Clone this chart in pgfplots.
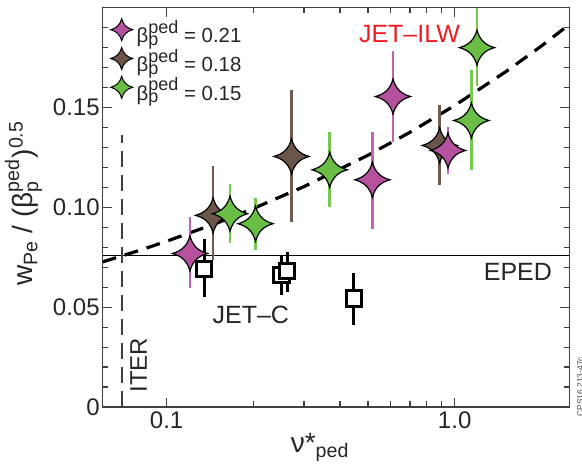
\documentclass[border=0pt]{standalone}
\usepackage{fontspec}
\setmainfont{Liberation Sans}
\usepackage{amsmath}
\usepackage{pgfplots}
\usepackage{pgfplotstable}
\pgfplotsset{compat=1.18}

\definecolor{cmag}{RGB}{181,81,158}
\definecolor{cmagbar}{RGB}{192,98,179}
\definecolor{cbrown}{RGB}{107,85,73}
\definecolor{cbrownbar}{RGB}{110,90,79}
\definecolor{cgreen}{RGB}{106,190,69}
\definecolor{cgreenbar}{RGB}{120,200,80}
\definecolor{cred}{RGB}{237,28,36}

\pgfdeclareplotmark{star4}{%
 \pgfpathmoveto{\pgfqpoint{0pt}{\pgfplotmarksize}}%
 \pgfpathcurveto{\pgfqpoint{0.15\pgfplotmarksize}{0.45\pgfplotmarksize}}{\pgfqpoint{0.45\pgfplotmarksize}{0.15\pgfplotmarksize}}{\pgfqpoint{\pgfplotmarksize}{0pt}}%
 \pgfpathcurveto{\pgfqpoint{0.45\pgfplotmarksize}{-0.15\pgfplotmarksize}}{\pgfqpoint{0.15\pgfplotmarksize}{-0.45\pgfplotmarksize}}{\pgfqpoint{0pt}{-\pgfplotmarksize}}%
 \pgfpathcurveto{\pgfqpoint{-0.15\pgfplotmarksize}{-0.45\pgfplotmarksize}}{\pgfqpoint{-0.45\pgfplotmarksize}{-0.15\pgfplotmarksize}}{\pgfqpoint{-\pgfplotmarksize}{0pt}}%
 \pgfpathcurveto{\pgfqpoint{-0.45\pgfplotmarksize}{0.15\pgfplotmarksize}}{\pgfqpoint{-0.15\pgfplotmarksize}{0.45\pgfplotmarksize}}{\pgfqpoint{0pt}{\pgfplotmarksize}}%
 \pgfpathclose
 \pgfusepathqfillstroke
}

\newcommand{\legbeta}{β\rlap{\raisebox{-1.2pt}{\fontsize{9}{10}\selectfont p}}\raisebox{4.8pt}{\fontsize{9}{10}\selectfont ped}}

\pgfplotstableread{
x y ep em
0.1205 0.0769 0.0183 0.0175
0.518 0.1138 0.0239 0.0245
0.611 0.1555 0.0230 0.0228
0.948 0.1285 0.0115 0.0117
}\magdata
\pgfplotstableread{
x y ep em
0.145 0.0960 0.0245 0.0225
0.2715 0.1255 0.0333 0.0328
0.887 0.1310 0.0203 0.0200
}\browndata
\pgfplotstableread{
x y ep em
0.166 0.0968 0.0150 0.0146
0.2036 0.0918 0.0130 0.0133
0.3684 0.1188 0.0189 0.0186
1.143 0.1435 0.0253 0.0250
1.195 0.1800 0.0200 0.0190
}\greendata
\pgfplotstableread{
x y ep em
0.135 0.0693 0.0150 0.0141
0.2506 0.0660 0.0100 0.0100
0.262 0.0682 0.0095 0.0105
0.446 0.0543 0.0129 0.0130
}\jetcdata
\pgfplotstableread{
x y
0.06 0.0727
0.08 0.0783
0.1 0.0830
0.15 0.0922
0.2 0.0994
0.3 0.1104
0.5 0.1261
0.7 0.1376
1 0.1510
1.5 0.1678
2 0.1808
2.5 0.1916
}\fitdata

\begin{document}
\begin{tikzpicture}
\begin{axis}[
  name=ax,
  scale only axis, width=233.3pt, height=199.65pt,
  xmode=log, xmin=0.06, xmax=2.5, ymin=0, ymax=0.2,
  xtick={0.1,1}, xticklabels={0.1,1.0},
  ytick={0,0.05,0.1,0.15}, yticklabels={0,0.05,0.10,0.15},
  minor ytick={0.01,0.02,0.03,0.04,0.06,0.07,0.08,0.09,0.11,0.12,0.13,0.14,0.16,0.17,0.18,0.19},
  /pgf/number format/assume math mode=true,
  axis line style={black!75, line width=0.6pt},
  every tick/.style={black!75, line width=0.6pt},
  major tick length=4.5pt, minor tick length=2.8pt,
  tick label style={font=\fontsize{12}{14}\selectfont, text=black!85},
  xticklabel style={yshift=1pt},
  yticklabel style={xshift=2pt},
  xlabel={ν*$_\text{ped}$},
  ylabel={w$_\text{Pe}$ / (β$_\text{p}^\text{ped}$)$^\text{0.5}$},
  label style={font=\fontsize{14}{16}\selectfont, text=black!85},
  xlabel style={at={(axis description cs:0.466,0)}, anchor=base, yshift=-22.85pt},
  ylabel style={at={(axis description cs:0,0.51)}, anchor=base, yshift=34.85pt},
  legend image code/.code={\draw[#1, yshift=3.6pt] plot coordinates {(0pt,0pt)};},
  legend style={at={(0,1)}, anchor=north west, xshift=4pt, yshift=-5.5pt,
    draw=none, fill=none, inner sep=0pt, outer sep=0pt,
    font=\fontsize{10.2}{12}\selectfont, text=black!85,
    row sep=-0.7pt, column sep=2pt,
    nodes={inner sep=0pt, text height=9pt, text depth=3pt}},
  legend cell align=left,
]
\addlegendimage{only marks, mark=star4, mark size=5.5pt, fill=cmag, draw=black, line width=0.5pt}
\addlegendentry{\legbeta\ = 0.21}
\addlegendimage{only marks, mark=star4, mark size=5.5pt, fill=cbrown, draw=black, line width=0.5pt}
\addlegendentry{\legbeta\ = 0.18}
\addlegendimage{only marks, mark=star4, mark size=5.5pt, fill=cgreen, draw=black, line width=0.5pt}
\addlegendentry{\legbeta\ = 0.15}

% EPED line
\addplot[forget plot, black, line width=0.6pt] coordinates {(0.06,0.076) (2.5,0.076)};
% ITER line
\addplot[forget plot, black!75, line width=0.6pt, dash pattern=on 8pt off 4pt] coordinates {(0.07,0) (0.07,0.136)};
% fit
\addplot[forget plot, black, line width=1.6pt, dash pattern=on 7pt off 4.5pt] table[x=x,y=y] {\fitdata};

\addplot[forget plot, only marks, mark=star4, mark size=8.8pt, fill=cbrown, draw=black, line width=0.6pt,
  error bars/.cd, y dir=both, y explicit, error mark=none, error bar style={line width=1.3pt, cbrownbar, solid}]
  table[x=x,y=y,y error plus=ep,y error minus=em] {\browndata};
\addplot[forget plot, only marks, mark=star4, mark size=8.8pt, fill=cmag, draw=black, line width=0.6pt,
  error bars/.cd, y dir=both, y explicit, error mark=none, error bar style={line width=1.3pt, cmagbar, solid}]
  table[x=x,y=y,y error plus=ep,y error minus=em] {\magdata};
\addplot[forget plot, only marks, mark=star4, mark size=8.8pt, fill=cgreen, draw=black, line width=0.6pt,
  error bars/.cd, y dir=both, y explicit, error mark=none, error bar style={line width=1.3pt, cgreenbar, solid}]
  table[x=x,y=y,y error plus=ep,y error minus=em] {\greendata};
\addplot[forget plot, only marks, mark=square*, mark size=3.8pt, fill=white, draw=black, line width=1.5pt,
  error bars/.cd, y dir=both, y explicit, error mark=none, error bar style={line width=1.5pt, black, solid}]
  table[x=x,y=y,y error plus=ep,y error minus=em] {\jetcdata};

\node[font=\fontsize{12.5}{14}\selectfont, text=cred] at (axis cs:0.697,0.1869) {JET--ILW};
\node[font=\fontsize{12.5}{14}\selectfont, text=black!85] at (axis cs:1.658,0.0677) {EPED};
\node[font=\fontsize{12.5}{14}\selectfont, text=black!85] at (axis cs:0.196,0.046) {JET--C};
\node[font=\fontsize{12}{14}\selectfont, text=black!85, rotate=90] at (axis cs:0.08,0.021) {ITER};
\end{axis}
\path (ax.south east) ++(6.85pt,-4.85pt) node[rotate=90, anchor=base west, inner sep=0pt, font=\fontsize{4.2}{5}\selectfont, text=black!70] {CPS16.213-47c};
\pgfresetboundingbox
\path[use as bounding box] (ax.south west) ++(-51.35pt,-31.5pt) rectangle ++(291pt,235pt);
\end{tikzpicture}
\end{document}
